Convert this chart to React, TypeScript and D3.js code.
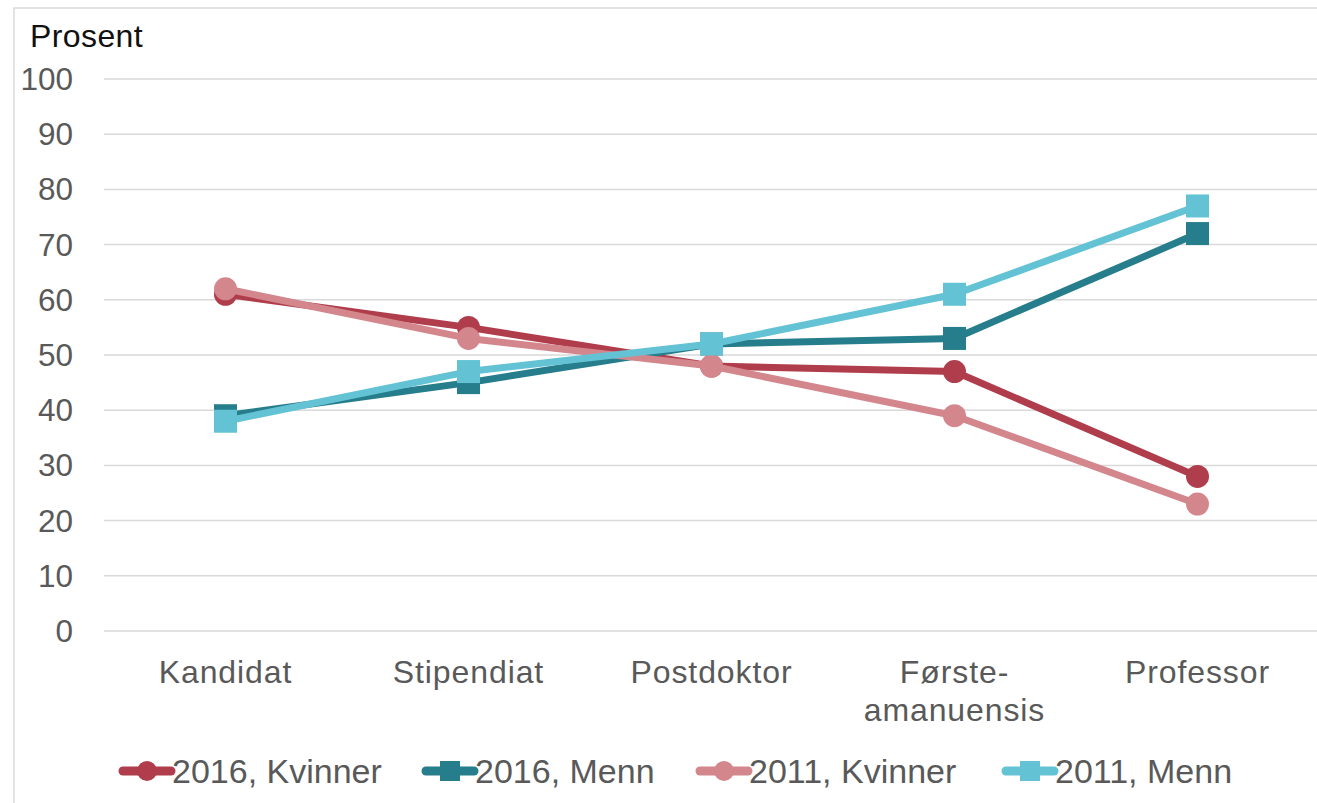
import React, { useEffect, useRef } from "react";
import * as d3 from "d3";

// categories on the x axis (label lines)
const categories = ["Kandidat", "Stipendiat", "Postdoktor", "Første-\namanuensis", "Professor"];
const yTicks = [0, 10, 20, 30, 40, 50, 60, 70, 80, 90, 100];

// series values, percent
const kvinner2016 = [61, 55, 48, 47, 28];
const menn2016 = [39, 45, 52, 53, 72];
const kvinner2011 = [62, 53, 48, 39, 23];
const menn2011 = [38, 47, 52, 61, 77];

const seriesNames = ["2016, Kvinner", "2016, Menn", "2011, Kvinner", "2011, Menn"];

const App = () => {
  const ref = useRef<SVGSVGElement>(null);

  useEffect(() => {
    const width = 1317, height = 803;
    const svg = d3.select(ref.current);
    svg.selectAll("*").remove();
    svg.attr("width", width).attr("height", height);

    const font = "'Liberation Sans', Arial, sans-serif";

    const series = [
      { name: seriesNames[0], values: kvinner2016, color: "#B03D4B", shape: "circle" },
      { name: seriesNames[1], values: menn2016, color: "#267D8B", shape: "square" },
      { name: seriesNames[2], values: kvinner2011, color: "#D4868D", shape: "circle" },
      { name: seriesNames[3], values: menn2011, color: "#63C3D4", shape: "square" },
    ];

    // outer frame
    svg.append("path")
      .attr("d", `M14,${height} L14,8 L${width},8`)
      .attr("fill", "none")
      .attr("stroke", "#d9d9d9")
      .attr("stroke-width", 1.5);

    const x = d3.scalePoint<string>()
      .domain(categories)
      .range([104, 1319])
      .padding(0.5);

    const y = d3.scaleLinear().domain([0, 100]).range([631, 79]);

    // gridlines
    svg.append("g")
      .selectAll("line")
      .data(yTicks)
      .enter()
      .append("line")
      .attr("x1", 104)
      .attr("x2", width)
      .attr("y1", d => y(d))
      .attr("y2", d => y(d))
      .attr("stroke", "#d9d9d9")
      .attr("stroke-width", 1.5);

    // y tick labels
    svg.append("g")
      .selectAll("text")
      .data(yTicks)
      .enter()
      .append("text")
      .attr("x", 73)
      .attr("y", d => y(d) + 11)
      .attr("text-anchor", "end")
      .attr("font-family", font)
      .attr("font-size", 31.5)
      .attr("fill", "#595959")
      .text(d => d);

    svg.append("text")
      .attr("x", 30)
      .attr("y", 47)
      .attr("font-family", font)
      .attr("font-size", 32)
      .attr("letter-spacing", 0.4)
      .attr("fill", "#111")
      .text("Prosent");

    // category labels
    const cat = svg.append("g")
      .selectAll("text")
      .data(categories)
      .enter()
      .append("text")
      .attr("text-anchor", "middle")
      .attr("font-family", font)
      .attr("font-size", 32)
      .attr("letter-spacing", 0.9)
      .attr("fill", "#595959");
    cat.each(function (d) {
      const t = d3.select(this);
      d.split("\n").forEach((line, i) => {
        t.append("tspan").attr("x", x(d)!).attr("y", 683 + i * 38).text(line);
      });
    });

    const line = d3.line<number>()
      .x((_, i) => x(categories[i])!)
      .y(d => y(d));

    series.forEach(s => {
      const g = svg.append("g");
      g.append("path")
        .attr("d", line(s.values))
        .attr("fill", "none")
        .attr("stroke", s.color)
        .attr("stroke-width", 7)
        .attr("stroke-linejoin", "round");
      if (s.shape === "circle") {
        g.selectAll("circle")
          .data(s.values)
          .enter()
          .append("circle")
          .attr("cx", (_, i) => x(categories[i])!)
          .attr("cy", d => y(d))
          .attr("r", 11.5)
          .attr("fill", s.color);
      } else {
        g.selectAll("rect")
          .data(s.values)
          .enter()
          .append("rect")
          .attr("x", (_, i) => x(categories[i])! - 11.5)
          .attr("y", d => y(d) - 11.5)
          .attr("width", 23)
          .attr("height", 23)
          .attr("fill", s.color);
      }
    });

    // legend
    const legendX = [123, 426, 700, 1006];
    const legend = svg.append("g")
      .selectAll("g")
      .data(series)
      .enter()
      .append("g")
      .attr("transform", (_, i) => `translate(${legendX[i]},771)`);
    legend.append("line")
      .attr("x1", 0)
      .attr("x2", 48)
      .attr("stroke", d => d.color)
      .attr("stroke-width", 9)
      .attr("stroke-linecap", "round");
    legend.each(function (d) {
      const g = d3.select(this);
      if (d.shape === "circle") {
        g.append("circle").attr("cx", 24).attr("r", 10).attr("fill", d.color);
      } else {
        g.append("rect").attr("x", 14).attr("y", -10).attr("width", 20).attr("height", 20).attr("fill", d.color);
      }
    });
    legend.append("text")
      .attr("x", 49)
      .attr("y", 12)
      .attr("font-family", font)
      .attr("font-size", 34)
      .attr("fill", "#595959")
      .text(d => d.name);
  }, []);

  return <svg ref={ref} style={{ position: "absolute", left: 0, top: 0 }}></svg>;
};

export default App;
